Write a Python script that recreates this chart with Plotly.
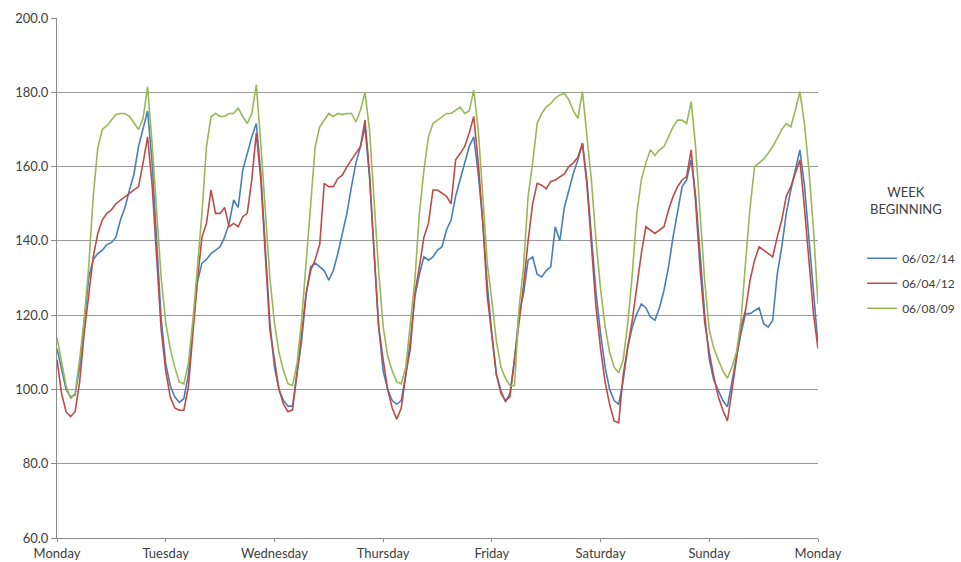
import plotly.graph_objects as go

# Hourly readings (169 points: Monday 00:00 through following Monday 00:00)
day_labels = ["Monday", "Tuesday", "Wednesday", "Thursday", "Friday", "Saturday", "Sunday", "Monday"]
series_names = ["06/02/14", "06/04/12", "06/08/09"]

week_060214 = [
    111, 105, 100, 98, 98.5, 106, 118, 130, 135, 136.6, 137.5, 139, 139.5, 141, 145.6, 149, 153.7, 158, 165.4, 170, 175, 161, 140, 119,
    107, 101, 98, 96.5, 97.5, 104, 117, 129, 134, 135, 136.6, 137.5, 138.4, 141, 144.7, 151, 149, 159, 163.5, 168, 171.6, 158, 138, 118,
    106, 100, 97, 95.5, 95.5, 104, 113, 125.8, 133, 134, 133, 132, 129.4, 132, 136.6, 142, 147.4, 154.6, 161, 165.4, 170.7, 157, 137, 117,
    105, 100, 97, 96, 97, 104, 113, 125, 131, 135.7, 134.8, 135.7, 137.5, 138.4, 143, 145.6, 152, 156.4, 161, 165.4, 168, 158, 145, 128,
    115, 104, 99.7, 96.6, 99, 108, 120.4, 125.8, 134.8, 135.7, 131, 130.3, 132, 133, 143.8, 140, 149, 153.7, 158.2, 161.8, 166.3, 156, 140, 126,
    115, 106, 100, 97, 96, 102.5, 111.4, 116.8, 120.4, 123, 122, 119.5, 118.6, 122, 126.7, 133, 141, 148.3, 154.6, 156.4, 161.8, 152, 136, 120,
    108, 102.5, 99.7, 97, 95.3, 102.5, 108.7, 115, 120.4, 120.4, 121.3, 122, 117.7, 116.8, 118.6, 131, 138.4, 147.4, 153.7, 159, 164.5, 155, 140, 125,
    112,
]

week_060412 = [
    108, 99, 94, 92.7, 94, 102, 115, 126, 135.7, 142, 145.6, 147.4, 148.3, 150, 151, 152, 152.8, 153.7, 154.6, 161, 168, 155, 137, 116,
    105, 98, 95, 94.4, 94.4, 100.7, 115, 129.4, 141, 144.7, 153.7, 147.4, 147.4, 149, 143.8, 144.7, 143.8, 146.5, 147.4, 156.4, 169, 156.4, 136, 116,
    108, 100, 96, 94, 94.5, 104, 115, 125.8, 132, 135, 139, 155.5, 154.6, 154.6, 156.8, 157.7, 160, 161.8, 163.5, 165.4, 172.5, 158, 137, 117,
    108, 100, 95, 92, 95, 104, 111, 125.8, 133, 141, 144.7, 153.7, 153.7, 152.8, 152, 150, 161.8, 163.5, 165.4, 169, 173.5, 161, 145, 125,
    114, 104, 99, 97, 98, 108, 118, 128, 140, 150, 155.5, 155, 154, 156, 156.4, 157.3, 158, 160, 161, 162.5, 166.3, 155, 138, 122,
    111, 102, 96, 91.5, 91, 104, 111.4, 118.6, 127.6, 136.6, 143.8, 142.9, 142, 142.9, 143.8, 148.3, 151.9, 154.6, 156.4, 157.3, 164.5, 150, 132, 118,
    110, 103.4, 98, 94.4, 91.5, 99.7, 108.7, 116.8, 121.3, 129.4, 134.8, 138.4, 137.5, 136.6, 135.7, 141, 145.6, 152, 154.6, 158.2, 161.8, 149, 134, 120.4,
    111,
]

week_060809 = [
    114, 107, 101, 97.5, 99, 108, 119, 133, 152, 165, 170, 171, 172.5, 174, 174.3, 174.3, 173.5, 171.6, 170, 173, 181.5, 166, 147, 130,
    118, 111, 106, 102, 101.5, 107, 118.6, 133, 147.4, 165.4, 173.4, 174.3, 173.5, 173.5, 174.3, 174.3, 175.7, 173.5, 171.6, 174.3, 182, 166, 148, 130,
    118, 110, 105, 101.5, 101, 107, 118.6, 134, 149, 165.4, 170.7, 172.5, 174.3, 173.5, 174.3, 174, 174.3, 174.3, 172, 175.2, 180, 169.8, 150, 132,
    117, 109, 105, 102, 101.5, 106, 117.7, 129.4, 147.4, 159, 168, 171.6, 172.5, 173.5, 174.3, 174.3, 175.2, 176, 174.3, 175, 180.6, 169.8, 152, 134,
    124, 113, 106, 103, 101, 101, 122, 133, 152, 161, 171.6, 174.3, 176, 177, 178.4, 179.3, 179.7, 178, 175, 173, 180.2, 168, 156, 140,
    127, 117, 110, 106, 104.5, 108, 117.7, 131, 147.4, 156.4, 161, 164.5, 163, 164.5, 165.4, 168, 170.7, 172.5, 172.5, 171.6, 177.5, 165, 147, 129,
    116, 111, 108, 105, 103, 106, 110, 118.6, 134, 149, 160, 161, 162, 163.6, 165.4, 167.6, 170, 171.6, 170.7, 175.2, 180.2, 171.6, 159, 143,
    123,
]

colors = ["#4a7ebb", "#be4b48", "#98b954"]
series_values = [week_060214, week_060412, week_060809]

hours = list(range(len(week_060214)))
day_ticks = [24 * i for i in range(len(day_labels))]

FONT = "Lato, 'Open Sans', sans-serif"

fig = go.Figure()
for i, (name, vals, col) in enumerate(zip(series_names, series_values, colors)):
    fig.add_trace(go.Scatter(
        x=hours, y=vals, name=name, mode="lines",
        line=dict(color=col, width=1.6),
        legendgroup=f"g{i}",
    ))

fig.update_layout(
    width=961, height=562,
    margin=dict(l=57, r=143, t=18, b=24, autoexpand=False),
    paper_bgcolor="white", plot_bgcolor="white",
    font=dict(family=FONT, size=13, color="#404040"),
    showlegend=True,
    legend=dict(
        x=1.058, y=0.566, xanchor="left", yanchor="top",
        font=dict(family=FONT, size=12, color="#404040"),
        tracegroupgap=6, itemwidth=30,
        bgcolor="rgba(0,0,0,0)",
    ),
    annotations=[dict(
        text="WEEK<br>BEGINNING", x=1.1156, y=0.685, xref="paper", yref="paper",
        xanchor="center", yanchor="top", showarrow=False,
        font=dict(family=FONT, size=13, color="#404040"), align="center",
    )],
)

fig.update_xaxes(
    range=[0, 168], tickmode="array", tickvals=day_ticks, ticktext=day_labels,
    showgrid=False, showline=True, linecolor="#8c8c8c", linewidth=1,
    ticks="outside", ticklen=3, tickcolor="#8c8c8c", zeroline=False,
    automargin=False,
)
fig.update_yaxes(
    range=[60, 200], dtick=20, tick0=60, tickformat=".1f",
    showgrid=True, gridcolor="#9a9a9a", gridwidth=1,
    showline=True, linecolor="#8c8c8c", linewidth=1,
    ticks="outside", ticklen=5, tickcolor="#8c8c8c", zeroline=False,
    automargin=False,
)

# remove the browser's default page margin so the figure fills the window exactly
fig.write_html(
    "out.html",
    config={"displayModeBar": False},
    post_script="document.body.style.margin='0';document.body.style.overflow='hidden';",
)
